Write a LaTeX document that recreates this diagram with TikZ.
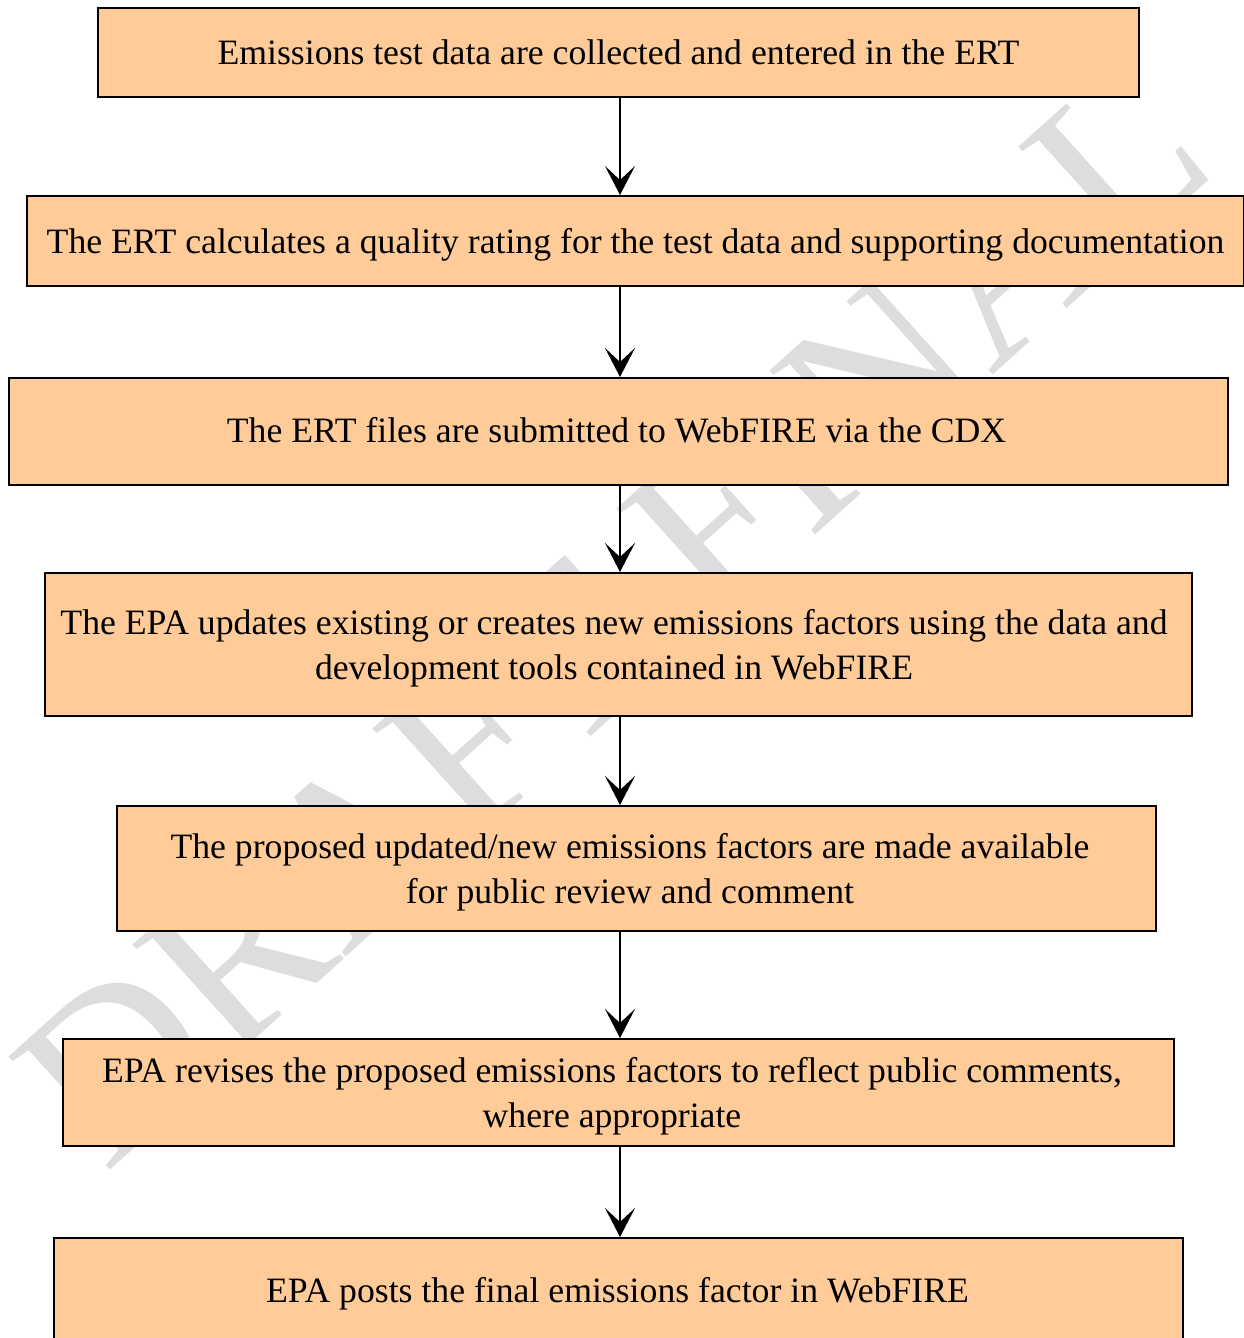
\documentclass[tikz,border=0pt]{standalone}
\usepackage{fontspec}
\setmainfont{Liberation Serif}
\usetikzlibrary{arrows.meta}
\definecolor{boxfill}{HTML}{FFCC99}
\definecolor{wmark}{HTML}{DDDDDD}
\tikzset{
  stepbox/.style={draw=black, line width=2pt, fill=boxfill, inner sep=0pt},
  steptext/.style={inner sep=0pt, align=center, font=\fontsize{35.7}{45}\selectfont},
  flow/.style={line width=1.6pt, -{Stealth[length=29pt,width=30pt,inset=14pt]}},
}
\begin{document}
\begin{tikzpicture}[x=1pt,y=-1pt]
\useasboundingbox (0,0) rectangle (1243,1338);
\fill[white] (0,0) rectangle (1243,1338);
\node[rotate=42, text=wmark, font=\fontsize{232}{232}\selectfont] (wm) at (612,615) {DRAFT FINAL};
\node[stepbox, minimum width=1041pt, minimum height=89pt] (b1) at (618.5,52.5) {};
\node[stepbox, minimum width=1217pt, minimum height=90pt] (b2) at (635.5,241) {};
\node[stepbox, minimum width=1219pt, minimum height=107pt] (b3) at (618.5,431.5) {};
\node[stepbox, minimum width=1147pt, minimum height=143pt] (b4) at (618.5,644.5) {};
\node[stepbox, minimum width=1039pt, minimum height=125pt] (b5) at (636.5,868.5) {};
\node[stepbox, minimum width=1111pt, minimum height=107pt] (b6) at (618.5,1092.5) {};
\node[stepbox, minimum width=1129pt, minimum height=120pt] (b7) at (618.5,1298) {};
\node[steptext] (t1) at (618.5,52.5) {Emissions test data are collected and entered in the ERT};
\node[steptext] (t2) at (635.5,245) {The ERT calculates a quality rating for the test data and supporting documentation};
\node[steptext] (t3) at (616.5,430.5) {The ERT files are submitted to WebFIRE via the CDX};
\node[steptext] (t4) at (614,648.5) {The EPA updates existing or creates new emissions factors using the data and\\development tools contained in WebFIRE};
\node[steptext] (t5) at (630,872.5) {The proposed updated/new emissions factors are made available\\for public review and comment};
\node[steptext] (t6) at (612,1096.5) {EPA revises the proposed emissions factors to reflect public comments,\\where appropriate};
\node[steptext] (t7) at (617.5,1294) {EPA posts the final emissions factor in WebFIRE};
\draw[flow] (b1.south -| 620,0) -- (b2.north -| 620,0);
\draw[flow] (b2.south -| 620,0) -- (b3.north -| 620,0);
\draw[flow] (b3.south -| 620,0) -- (b4.north -| 620,0);
\draw[flow] (b4.south -| 620,0) -- (b5.north -| 620,0);
\draw[flow] (b5.south -| 620,0) -- (b6.north -| 620,0);
\draw[flow] (b6.south -| 620,0) -- (b7.north -| 620,0);
\end{tikzpicture}
\end{document}
